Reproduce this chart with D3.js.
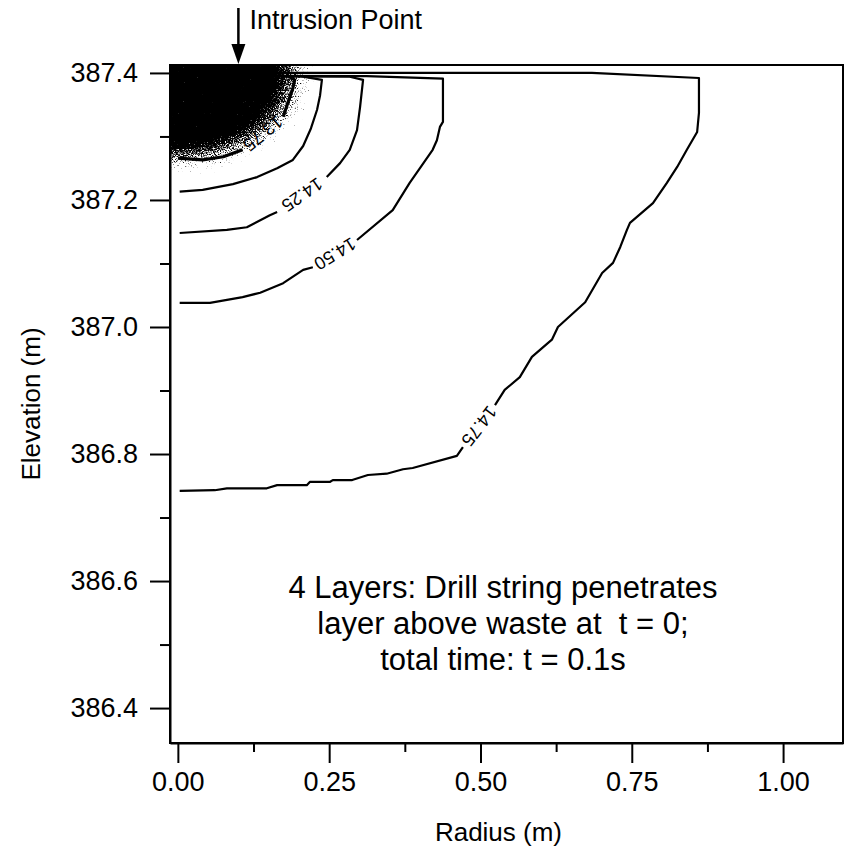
<!DOCTYPE html>
<html>
<head>
<meta charset="utf-8">
<script src="https://cdn.jsdelivr.net/npm/d3@7"></script>
<style>
  html, body { margin: 0; padding: 0; background: #fff; }
  svg { display: block; font-family: "Liberation Sans", Arial, Helvetica, sans-serif; }
</style>
</head>
<body>
<svg id="chart" width="847" height="856"></svg>
<script>
// ticks
let xMajorTicks = [0, 0.25, 0.5, 0.75, 1.0];
let xMinorTicks = [0.125, 0.375, 0.625, 0.875];
let yMajorTicks = [386.4, 386.6, 386.8, 387.0, 387.2, 387.4];
let yMinorTicks = [386.5, 386.7, 386.9, 387.1, 387.3];

// contours, [radius (m), elevation (m)], split at the label
let c1375In = [[0.0, 387.266], [0.041, 387.263], [0.075, 387.268], [0.107, 387.279]];
let c1375Out = [[0.174, 387.331], [0.182, 387.354], [0.190, 387.376], [0.193, 387.389], [0.180, 387.396]];

let c1400 = [[0.003, 387.213], [0.041, 387.216], [0.091, 387.225], [0.131, 387.236], [0.164, 387.250],
    [0.190, 387.263], [0.207, 387.285], [0.220, 387.313], [0.230, 387.342], [0.235, 387.365],
    [0.238, 387.389], [0.202, 387.395], [0.0, 387.397]];

let c1425In = [[0.003, 387.148], [0.081, 387.153], [0.114, 387.157], [0.152, 387.176], [0.164, 387.181]];
let c1425Out = [[0.246, 387.236], [0.268, 387.258], [0.284, 387.279], [0.296, 387.310], [0.301, 387.346],
    [0.306, 387.389], [0.284, 387.394], [0.0, 387.395]];

let c1450In = [[0.003, 387.038], [0.053, 387.038], [0.107, 387.047], [0.136, 387.054], [0.174, 387.069],
    [0.207, 387.090], [0.223, 387.094]];
let c1450Out = [[0.296, 387.137], [0.355, 387.184], [0.383, 387.227], [0.400, 387.250], [0.421, 387.279],
    [0.428, 387.294], [0.433, 387.315], [0.438, 387.323], [0.438, 387.391], [0.312, 387.395], [0.0, 387.396]];

let c1475In = [[0.003, 386.742], [0.061, 386.743], [0.081, 386.746], [0.147, 386.746], [0.164, 386.751],
    [0.213, 386.751], [0.218, 386.756], [0.251, 386.756], [0.256, 386.759], [0.288, 386.759],
    [0.314, 386.767], [0.345, 386.769], [0.372, 386.776], [0.388, 386.778], [0.461, 386.797], [0.471, 386.811]];
let c1475Out = [[0.524, 386.877], [0.540, 386.901], [0.565, 386.921], [0.585, 386.953], [0.618, 386.980],
    [0.628, 387.000], [0.673, 387.039], [0.701, 387.085], [0.719, 387.101], [0.731, 387.126],
    [0.742, 387.153], [0.747, 387.164], [0.785, 387.195], [0.808, 387.227], [0.825, 387.252],
    [0.841, 387.279], [0.858, 387.307], [0.861, 387.337], [0.861, 387.392], [0.684, 387.400], [0.0, 387.400]];

let contourLabels = ['13.75', '14.25', '14.50', '14.75'];
let intrusionX = 0.1;
let noteLines = ['4 Layers: Drill string penetrates', 'layer above waste at  t = 0;', 'total time: t = 0.1s'];
// shading density vs distance (1 = on the 13.75 contour)
let shadeStops = [[0, 1], [0.8, 1], [0.95, 0.66], [1.05, 0.45], [1.18, 0.22], [1.35, 0]];

let svg = d3.select('#chart');
let x = d3.scaleLinear().domain([-0.013, 1.099]).range([170, 843]);
let y = d3.scaleLinear().domain([386.345, 387.4125]).range([743, 65]);
let line = d3.line().x(d => x(d[0])).y(d => y(d[1]));

let defs = svg.append('defs');
defs.append('clipPath').attr('id', 'plotClip')
    .append('rect')
    .attr('x', x.range()[0]).attr('y', y.range()[1])
    .attr('width', x.range()[1] - x.range()[0])
    .attr('height', y.range()[0] - y.range()[1]);

// stippled shading of the steep region near the intrusion
let cx = x(0), cy = y(387.40);
let rx = x(d3.max(c1375Out, d => d[0])) - cx;
let ry = y(c1375In[0][1]) - cy;
let rMax = shadeStops[shadeStops.length - 1][0];
let grad = defs.append('radialGradient').attr('id', 'shadeGrad')
    .attr('gradientUnits', 'userSpaceOnUse')
    .attr('cx', 0).attr('cy', 0).attr('r', 1)
    .attr('gradientTransform', `translate(${cx},${cy}) scale(${rx * rMax},${ry * rMax})`);
grad.selectAll('stop').data(shadeStops).join('stop')
    .attr('offset', d => d[0] / rMax)
    .attr('stop-color', '#000')
    .attr('stop-opacity', d => d[1]);

// threshold against noise so the grey reads as stipple
let f = defs.append('filter').attr('id', 'stipple')
    .attr('filterUnits', 'userSpaceOnUse')
    .attr('x', 100).attr('y', 0).attr('width', 400).attr('height', 300);
f.append('feTurbulence').attr('type', 'fractalNoise').attr('baseFrequency', 0.83)
    .attr('numOctaves', 2).attr('seed', 7).attr('result', 'noise');
f.append('feColorMatrix').attr('in', 'noise').attr('type', 'matrix')
    .attr('values', '0 0 0 0 0  0 0 0 0 0  0 0 0 0 0  1 0 0 0 0').attr('result', 'noiseA');
f.append('feComposite').attr('in', 'SourceGraphic').attr('in2', 'noiseA').attr('operator', 'arithmetic')
    .attr('k1', 0).attr('k2', 4.5).attr('k3', -4.5).attr('k4', 0);

svg.append('g').attr('clip-path', 'url(#plotClip)')
    .append('rect')
    .attr('x', x.range()[0]).attr('y', y.range()[1])
    .attr('width', rx * rMax + 20).attr('height', ry * rMax + 20)
    .attr('fill', 'url(#shadeGrad)')
    .attr('filter', 'url(#stipple)');

// contour lines
let plot = svg.append('g').attr('clip-path', 'url(#plotClip)');
let segs = [
    {pts: c1375In, w: 3.2}, {pts: c1375Out, w: 3.2},
    {pts: c1400, w: 2.2},
    {pts: c1425In, w: 2.2}, {pts: c1425Out, w: 2.2},
    {pts: c1450In, w: 2.2}, {pts: c1450Out, w: 2.2},
    {pts: c1475In, w: 2.2}, {pts: c1475Out, w: 2.2}
];
plot.selectAll('path.contour').data(segs).join('path')
    .attr('class', 'contour')
    .attr('d', d => line(d.pts))
    .attr('fill', 'none')
    .attr('stroke', '#000')
    .attr('stroke-width', d => d.w)
    .attr('stroke-linejoin', 'round');

// labels sit in the gaps, reading right to left like the original
let gaps = [[c1375In, c1375Out], [c1425In, c1425Out], [c1450In, c1450Out], [c1475In, c1475Out]];
gaps.forEach(([a, b], i) => {
    let p = a[a.length - 1], q = b[0];
    let x1 = x(p[0]), y1 = y(p[1]), x2 = x(q[0]), y2 = y(q[1]);
    let ang = Math.atan2(y2 - y1, x2 - x1) * 180 / Math.PI + 180;
    svg.append('text')
        .attr('transform', `translate(${(x1 + x2) / 2},${(y1 + y2) / 2}) rotate(${ang})`)
        .attr('text-anchor', 'middle')
        .attr('dominant-baseline', 'central')
        .attr('font-size', 18)
        .text(contourLabels[i]);
});

// axes
let tickFont = 27;
svg.append('g').attr('transform', `translate(0,${y.range()[0]})`)
    .call(d3.axisBottom(x).tickValues(xMajorTicks).tickSize(20).tickSizeOuter(0)
        .tickPadding(9).tickFormat(d3.format('.2f')));
svg.append('g').attr('transform', `translate(0,${y.range()[0]})`)
    .call(d3.axisBottom(x).tickValues(xMinorTicks).tickSize(9).tickFormat(''))
    .call(g => g.select('.domain').remove());
svg.append('g').attr('transform', `translate(${x.range()[0]},0)`)
    .call(d3.axisLeft(y).tickValues(yMajorTicks).tickSize(20).tickSizeOuter(0)
        .tickPadding(12).tickFormat(d3.format('.1f')));
svg.append('g').attr('transform', `translate(${x.range()[0]},0)`)
    .call(d3.axisLeft(y).tickValues(yMinorTicks).tickSize(10).tickFormat(''))
    .call(g => g.select('.domain').remove());

svg.selectAll('.tick line, .domain').attr('stroke', '#000').attr('stroke-width', 2);
svg.selectAll('.tick text').attr('font-size', tickFont).attr('fill', '#000')
    .attr('font-family', '"Liberation Sans", Arial, sans-serif');

// top and right frame
svg.append('rect')
    .attr('x', x.range()[0]).attr('y', y.range()[1])
    .attr('width', x.range()[1] - x.range()[0])
    .attr('height', y.range()[0] - y.range()[1])
    .attr('fill', 'none').attr('stroke', '#000').attr('stroke-width', 2);

// axis titles
svg.append('text')
    .attr('x', (x(0) + x(1)) / 2 + 18).attr('y', 841)
    .attr('text-anchor', 'middle').attr('font-size', 26)
    .text('Radius (m)');
svg.append('text')
    .attr('transform', `translate(40,${(y.range()[0] + y.range()[1]) / 2}) rotate(-90)`)
    .attr('text-anchor', 'middle').attr('font-size', 26)
    .text('Elevation (m)');

// intrusion arrow
let ax = x(intrusionX);
svg.append('line').attr('x1', ax).attr('x2', ax).attr('y1', 8).attr('y2', 48)
    .attr('stroke', '#000').attr('stroke-width', 2.5);
svg.append('path')
    .attr('d', `M${ax - 7},44 L${ax + 7},44 L${ax},64 Z`)
    .attr('fill', '#000');
svg.append('text')
    .attr('x', ax + 11).attr('y', 29)
    .attr('font-size', 27)
    .text('Intrusion Point');

// note
svg.append('text')
    .attr('x', 503).attr('y', 598)
    .attr('text-anchor', 'middle').attr('font-size', 31)
    .style('white-space', 'pre')
    .selectAll('tspan').data(noteLines).join('tspan')
    .attr('x', 503).attr('dy', (d, i) => i === 0 ? 0 : 36)
    .text(d => d);
</script>
</body>
</html>
